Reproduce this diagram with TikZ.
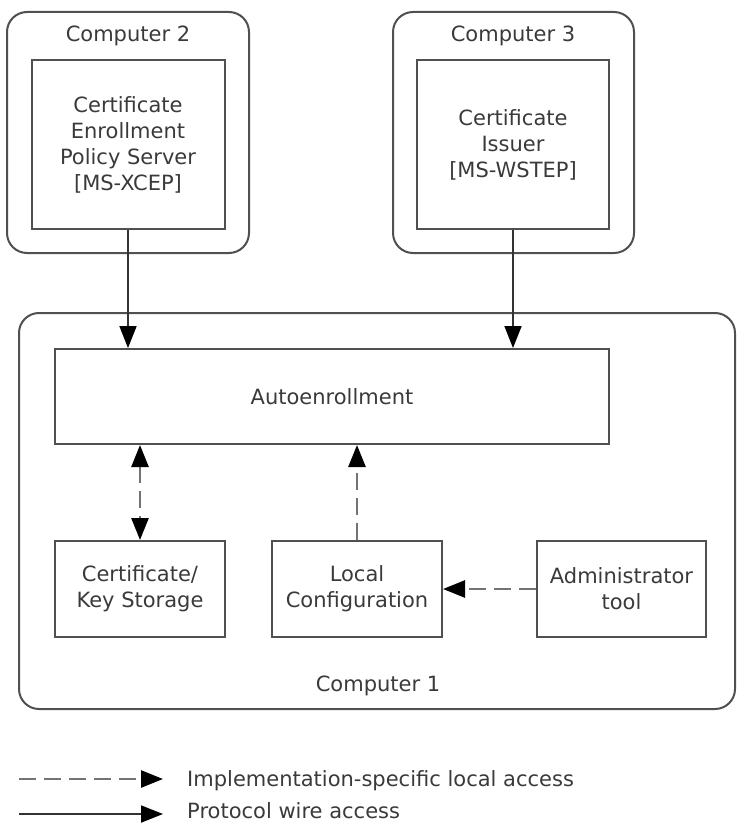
\documentclass[tikz,border=0pt]{standalone}
\usepackage{fontspec}
\setmainfont{DejaVu Sans}
\usetikzlibrary{arrows.meta}
\definecolor{linegray}{HTML}{505050}
\definecolor{textgray}{HTML}{3A3A3A}

\begin{document}
\begin{tikzpicture}[x=1pt, y=-1pt,
  >={Triangle[length=22pt,width=17pt,color=black]},
  box/.style={draw=linegray, line width=2pt, text=textgray, align=center, inner sep=0pt},
  machine/.style={box, rounded corners=20pt},
  label/.style={text=textgray, anchor=base, inner sep=0pt},
  wire/.style={->, line width=1.8pt, draw=black!80},
  local/.style={->, line width=2.6pt, draw=black!55, dash pattern=on 17pt off 8pt},
  ]

  \fontsize{21}{26}\selectfont

  \useasboundingbox (0,0) rectangle (736,824);

  %% computer 2
  \node[machine, minimum width=242pt, minimum height=241pt] (comp2) at (128,132.5) {};
  \node[label] (comp2lbl) at (128,42) {Computer 2};
  \node[box, minimum width=193pt, minimum height=169pt] (cepsrv) at (128,144.5)
    {Certificate\\Enrollment\\Policy Server\\{[MS-XCEP]}};

  %% computer 3
  \node[machine, minimum width=241pt, minimum height=241pt] (comp3) at (513.5,132.5) {};
  \node[label] (comp3lbl) at (513,42) {Computer 3};
  \node[box, minimum width=192pt, minimum height=169pt] (issuer) at (513,144.5)
    {Certificate\\Issuer\\{[MS-WSTEP]}};

  %% computer 1
  \node[machine, minimum width=716pt, minimum height=396pt] (comp1) at (377,511) {};
  \node[label] (comp1lbl) at (378,691) {Computer 1};
  \node[box, minimum width=554pt, minimum height=95pt] (autoenroll) at (332,396.5) {Autoenrollment};
  \node[box, minimum width=170pt, minimum height=96pt] (certkey) at (140,589) {Certificate/\\Key Storage};
  \node[box, minimum width=170pt, minimum height=96pt] (localcfg) at (357,589) {Local\\Configuration};
  \node[box, minimum width=169pt, minimum height=96pt] (admin) at (621.5,589) {Administrator\\tool};

  %% protocol wire access
  \draw[wire] (cepsrv.south) -- (cepsrv.south |- autoenroll.north); % XCEP -> auto
  \draw[wire] (issuer.south) -- (issuer.south |- autoenroll.north); % WSTEP -> auto

  %% local access
  \draw[local, <->] (certkey.north |- autoenroll.south) -- (certkey.north); % auto <-> storage
  \draw[local] (localcfg.north) -- (localcfg.north |- autoenroll.south);   % config -> auto
  \draw[local] (admin.west) -- (localcfg.east);                              % admin -> config

  %% legend
  \coordinate (implA) at (19,779);
  \coordinate (implB) at (163,779);
  \coordinate (wireA) at (19,814);
  \coordinate (wireB) at (163,814);
  \draw[local] (implA) -- (implB);
  \draw[wire] (wireA) -- (wireB);
  \node[label, anchor=base west] (impltxt) at (187,786) {Implementation-specific local access};
  \node[label, anchor=base west] (wiretxt) at (187,818.5) {Protocol wire access};

\end{tikzpicture}
\end{document}
